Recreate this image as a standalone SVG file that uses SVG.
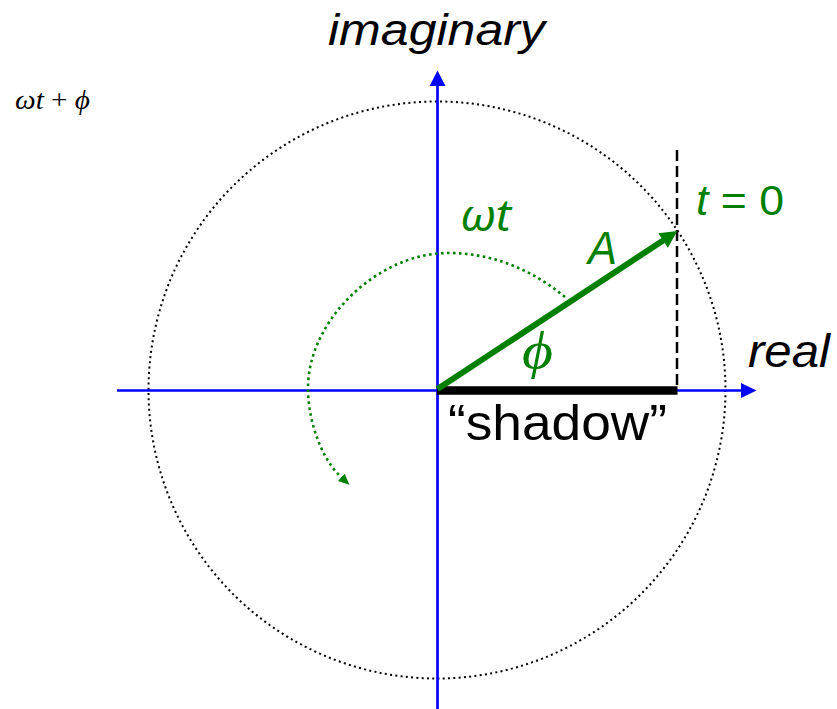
<svg xmlns="http://www.w3.org/2000/svg" width="837" height="709" viewBox="0 0 837 709">
<style>
  .sans { font-family: "Liberation Sans", Arial, sans-serif; }
  .serif { font-family: "Liberation Serif", "DejaVu Serif", serif; }
  .it { font-style: italic; }
  .green { fill: #008000; }
  .black { fill: #000000; }
  .axis { stroke: #0000FF; stroke-width: 2.7; fill: none; }
  .axishead { fill: #0000FF; stroke: none; }
  .circ { stroke: #000000; stroke-width: 2; stroke-dasharray: 2 3.3; fill: none; }
  .rot { stroke: #008000; stroke-width: 2.6; stroke-dasharray: 2.6 3.4; fill: none; }
  .vec { stroke: #008000; stroke-width: 6; fill: none; }
</style>
<defs>
  <marker id="arcHead" markerUnits="userSpaceOnUse" markerWidth="12" markerHeight="10" viewBox="0 0 12 10" refX="1" refY="5" orient="auto">
    <path d="M0,0 L11,5 L0,10 z" fill="#008000"/>
  </marker>
</defs>
<rect width="837" height="709" fill="#FFFFFF"/>

<g id="circle">
  <circle class="circ" cx="437" cy="390" r="288.5"/>
</g>

<g id="connectors">
  <!-- vertical (imaginary) axis -->
  <line class="axis" x1="437.5" y1="709" x2="437.5" y2="85"/>
  <polygon class="axishead" points="437.5,70.5 429.5,86 445.5,86"/>
  <!-- horizontal (real) axis -->
  <line class="axis" x1="117" y1="390.5" x2="742" y2="390.5"/>
  <polygon class="axishead" points="756.5,390.5 741,383 741,398"/>
  <!-- projection dashed line -->
  <line x1="677" y1="150" x2="677" y2="386" stroke="#000000" stroke-width="2.5" stroke-dasharray="11 5"/>
  <!-- shadow bar -->
  <line x1="437" y1="390.5" x2="677.5" y2="390.5" stroke="#000000" stroke-width="8.5"/>
  <!-- rotating vector A -->
  <line class="vec" x1="437.5" y1="389" x2="663.5" y2="240.2"/>
  <polygon fill="#008000" points="677.3,231 658.3,233.15 667.9,247.65"/>
  <!-- rotation arc -->
  <path class="rot" d="M565,297 C530,268 490,253 448,253 C378,253 308,320 308,388 C308,422 322,460 342,478" marker-end="url(#arcHead)"/>
</g>

<g id="label-imaginary">
  <text class="sans it black" x="328" y="45" font-size="44" textLength="217" lengthAdjust="spacingAndGlyphs">imaginary</text>
</g>
<g id="label-real">
  <text class="sans it black" x="748" y="366.5" font-size="46" textLength="82" lengthAdjust="spacingAndGlyphs">real</text>
</g>
<g id="label-formula">
  <text class="serif black" x="15" y="109" font-size="28" textLength="75" lengthAdjust="spacingAndGlyphs"><tspan class="it">ωt</tspan> + <tspan class="it">ϕ</tspan></text>
</g>
<g id="label-omega-t">
  <text class="it green" x="460" y="231" font-size="44" font-family="'Noto Sans', 'DejaVu Sans', sans-serif" textLength="51" lengthAdjust="spacingAndGlyphs">ωt</text>
</g>
<g id="label-A">
  <text class="sans it green" x="588" y="264" font-size="46" textLength="29" lengthAdjust="spacingAndGlyphs">A</text>
</g>
<g id="label-t0">
  <text class="sans green" x="696" y="215" font-size="42" textLength="88" lengthAdjust="spacingAndGlyphs"><tspan class="it">t</tspan> = 0</text>
</g>
<g id="label-phi">
  <text class="serif it green" x="522" y="368" font-size="52" textLength="31" lengthAdjust="spacingAndGlyphs">ϕ</text>
</g>
<g id="label-shadow">
  <text class="sans black" x="448" y="440" font-size="50" textLength="219" lengthAdjust="spacingAndGlyphs">“shadow”</text>
</g>
</svg>
